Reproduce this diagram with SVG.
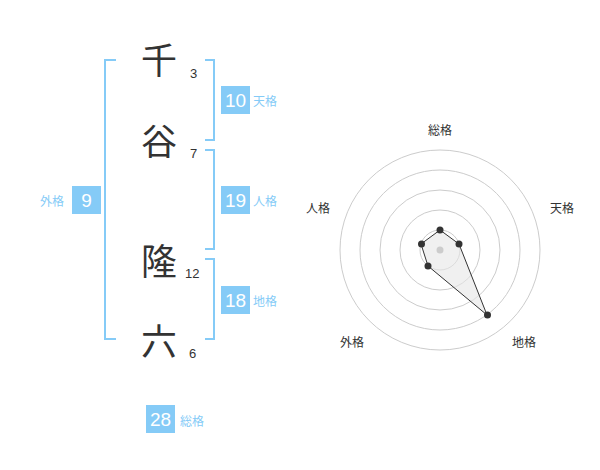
<svg xmlns="http://www.w3.org/2000/svg" width="600" height="470" viewBox="0 0 600 470">
<style>
.ch{font-family:"Noto Sans CJK JP","Noto Sans CJK SC",sans-serif;font-size:36px;fill:#333;text-anchor:middle}
.num{font-family:"Liberation Sans",Arial,sans-serif;font-size:13px;fill:#333}
.box{fill:#85cbf7}
.bv{font-family:"Liberation Sans",Arial,sans-serif;font-size:19px;fill:#fff;text-anchor:middle}
.bl{font-family:"Noto Sans CJK JP",sans-serif;font-size:12px;fill:#85cbf7}
.br{fill:none;stroke:#85cbf7;stroke-width:2}
.ring{fill:none;stroke:#ccc;stroke-width:1}
.rl{font-family:"Noto Sans CJK JP",sans-serif;font-size:12px;fill:#333;text-anchor:middle}
.dot{fill:#333}
</style>
<g id="connectors">
<path class="br" d="M116,60 H105 V339 H116"/>
<path class="br" d="M205,60 H214 V140 H205"/>
<path class="br" d="M205,150 H214 V249 H205"/>
<path class="br" d="M205,259 H214 V339 H205"/>
</g>
<g id="char1"><text class="ch" x="159" y="74">千</text><text class="num" x="190" y="78">3</text></g>
<g id="char2"><text class="ch" x="159" y="155">谷</text><text class="num" x="190" y="158">7</text></g>
<g id="char3"><text class="ch" x="159" y="275">隆</text><text class="num" x="185" y="278">12</text></g>
<g id="char4"><text class="ch" x="159" y="355">六</text><text class="num" x="189" y="358">6</text></g>
<g id="tenkaku"><rect class="box" x="221" y="86" width="29" height="28"/><text class="bv" x="235.5" y="107">10</text><text class="bl" x="253" y="106">天格</text></g>
<g id="jinkaku"><rect class="box" x="221" y="186" width="29" height="28"/><text class="bv" x="235.5" y="207">19</text><text class="bl" x="253" y="206">人格</text></g>
<g id="chikaku"><rect class="box" x="221" y="286" width="29" height="28"/><text class="bv" x="235.5" y="307">18</text><text class="bl" x="253" y="306">地格</text></g>
<g id="gaikaku"><rect class="box" x="72" y="186" width="29" height="28"/><text class="bv" x="86.5" y="207">9</text><text class="bl" x="40" y="206">外格</text></g>
<g id="soukaku"><rect class="box" x="146" y="405" width="29" height="28"/><text class="bv" x="160.5" y="426">28</text><text class="bl" x="180" y="426">総格</text></g>
<g id="radar">
<circle class="ring" cx="440" cy="250" r="20"/>
<circle class="ring" cx="440" cy="250" r="40"/>
<circle class="ring" cx="440" cy="250" r="60"/>
<circle class="ring" cx="440" cy="250" r="80"/>
<circle class="ring" cx="440" cy="250" r="100"/>
<polygon points="440,230 459,244 487,315 428,266 421,244" fill="#e6e6e6" fill-opacity="0.6" stroke="#333" stroke-width="1"/>
<circle cx="440" cy="250" r="3.5" fill="#ccc"/>
<circle class="dot" cx="440" cy="230" r="3.5"/>
<circle class="dot" cx="459" cy="244" r="3.5"/>
<circle class="dot" cx="487.5" cy="315" r="3.5"/>
<circle class="dot" cx="428" cy="266" r="3.5"/>
<circle class="dot" cx="421.5" cy="244" r="3.5"/>
<text class="rl" x="440" y="135">総格</text>
<text class="rl" x="562" y="213">天格</text>
<text class="rl" x="524" y="347">地格</text>
<text class="rl" x="352" y="347">外格</text>
<text class="rl" x="318" y="213">人格</text>
</g>
</svg>
